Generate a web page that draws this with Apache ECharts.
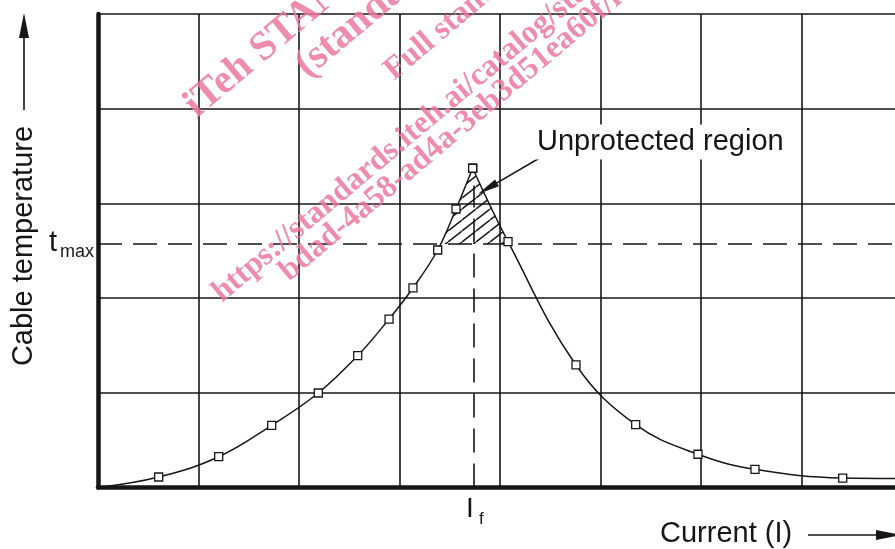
<!DOCTYPE html>
<html>
<head>
<meta charset="utf-8">
<title>Cable temperature vs current</title>
<script src="https://cdn.jsdelivr.net/npm/echarts@6/dist/echarts.min.js"></script>
<style>
  html, body { margin: 0; padding: 0; background: #fff; }
  #chart { width: 895px; height: 549px; }
</style>
</head>
<body>
<div id="chart"></div>
<script>
// rising branch of the curve (up to the peak)
const riseX = [0, 0.604, 1.201, 1.728, 2.192, 2.584, 2.896, 3.134, 3.380, 3.562, 3.728];
const riseY = [0, 0.111, 0.325, 0.657, 0.998, 1.392, 1.779, 2.107, 2.508, 2.941, 3.371];
// falling branch (from the peak on)
const fallX = [3.728, 4.080, 4.756, 5.350, 5.970, 6.537, 7.410, 8.0];
const fallY = [3.371, 2.596, 1.294, 0.663, 0.351, 0.192, 0.100, 0.095];

// reference levels
const tMax = 2.571;     // temperature limit
const iF = 3.741;       // fault current
const iFTop = 3.19;     // top of the I_f dashed line

// annotation anchor (start of the arrow, arrow tip)
const noteFrom = [4.428, 3.50];
const noteTip = [3.781, 3.10];

// axis ranges, one grid cell per unit
const xMax = 8;
const yMax = 5;

const watermark = [
  { text: 'iTeh STANDARD PREVIEW', x: 198, y: 120, size: 41 },
  { text: '(standards.iteh.ai)', x: 309, y: 80, size: 41 },
  { text: 'Full standard:', x: 395, y: 82, size: 32 },
  { text: 'https://standards.iteh.ai/catalog/standards/sist/', x: 223, y: 304, size: 32 },
  { text: 'bdad-4a58-ad4a-3eb3d51ea60f/iec', x: 290, y: 283, size: 32 }
];

const INK = '#161616';
const SANS = '"Liberation Sans", Arial, sans-serif';

function toPoints(xs, ys, skipFirst, skipLast) {
  return xs.map(function (x, i) {
    const p = { value: [x, ys[i]] };
    if ((skipFirst && i === 0) || (skipLast && i === xs.length - 1)) p.symbol = 'none';
    return p;
  });
}

// where the curve crosses tMax, linear between neighbouring points
function crossing(xs, ys, level) {
  for (let i = 0; i < xs.length - 1; i++) {
    const a = ys[i] - level, b = ys[i + 1] - level;
    if (a * b <= 0 && a !== b) {
      const t = a / (a - b);
      return [xs[i] + t * (xs[i + 1] - xs[i]), level];
    }
  }
  return null;
}

function hatchVerts() {
  const pts = [crossing(riseX, riseY, tMax)];
  riseX.forEach(function (x, i) { if (riseY[i] > tMax) pts.push([x, riseY[i]]); });
  fallX.forEach(function (x, i) { if (i > 0 && fallY[i] > tMax) pts.push([x, fallY[i]]); });
  pts.push(crossing(fallX.slice(1), fallY.slice(1), tMax));
  return pts;
}

function hatchPattern() {
  const w = 14, h = 11;
  const c = document.createElement('canvas');
  c.width = w; c.height = h;
  const g = c.getContext('2d');
  g.strokeStyle = INK;
  g.lineWidth = 1.5;
  [-w, 0, w].forEach(function (o) {
    g.beginPath();
    g.moveTo(o, h);
    g.lineTo(o + w, 0);
    g.stroke();
  });
  return { image: c, repeat: 'repeat' };
}

function arrow(from, tip, len, half) {
  const dx = tip[0] - from[0], dy = tip[1] - from[1];
  const d = Math.hypot(dx, dy);
  const ux = dx / d, uy = dy / d;
  const bx = tip[0] - ux * len, by = tip[1] - uy * len;
  return [
    { type: 'line', shape: { x1: from[0], y1: from[1], x2: bx + ux, y2: by + uy },
      style: { stroke: INK, lineWidth: 1.6 } },
    { type: 'polygon',
      shape: { points: [[tip[0], tip[1]], [bx - uy * half, by + ux * half], [bx + uy * half, by - ux * half]] },
      style: { fill: INK } }
  ];
}

function text(str, x, y, size, align, extra) {
  return {
    type: 'text', x: x, y: y, z: 50,
    style: Object.assign({
      text: str, fill: INK, font: size + 'px ' + SANS,
      align: align || 'left', verticalAlign: 'middle'
    }, extra || {})
  };
}

const chart = echarts.init(document.getElementById('chart'));

const lineStyle = { color: INK, width: 1.5 };
const markerStyle = { color: '#fff', borderColor: INK, borderWidth: 1.3 };

chart.setOption({
  animation: false,
  backgroundColor: '#fff',
  grid: { left: 98, top: 14, width: 804, height: 473.5, outerBoundsMode: 'none' },
  xAxis: {
    type: 'value', min: 0, max: xMax, interval: 1,
    axisLine: { onZero: false, lineStyle: { color: INK, width: 4.5 } },
    axisTick: { show: false },
    axisLabel: { show: false },
    splitLine: { show: true, lineStyle: { color: INK, width: 1.6 } }
  },
  yAxis: {
    type: 'value', min: 0, max: yMax, interval: 1,
    axisLine: { show: true, onZero: false, lineStyle: { color: INK, width: 4.5 } },
    axisTick: { show: false },
    axisLabel: { show: false },
    splitLine: { show: true, lineStyle: { color: INK, width: 1.6 } }
  },
  series: [
    {
      // hatched unprotected region above t max
      type: 'custom',
      coordinateSystem: 'cartesian2d',
      data: [[iF, tMax]],
      z: 1,
      silent: true,
      renderItem: function (params, api) {
        return {
          type: 'polygon',
          shape: { points: hatchVerts().map(function (p) { return api.coord(p); }) },
          style: { fill: hatchPattern(), stroke: null }
        };
      }
    },
    {
      type: 'line',
      data: toPoints(riseX, riseY, true, false),
      smooth: 0.4,
      symbol: 'rect',
      symbolSize: 8,
      lineStyle: lineStyle,
      itemStyle: markerStyle,
      z: 5,
      markLine: {
        silent: true,
        symbol: 'none',
        label: { show: false },
        lineStyle: { color: INK, width: 1.6, type: [24, 11] },
        data: [
          { yAxis: tMax },
          [{ coord: [iF, 0] }, { coord: [iF, iFTop] }]
        ]
      }
    },
    {
      type: 'line',
      data: toPoints(fallX, fallY, false, true),
      smooth: 0.4,
      symbol: 'rect',
      symbolSize: 8,
      lineStyle: lineStyle,
      itemStyle: markerStyle,
      z: 5
    }
  ]
});

// labels and arrows placed from data coordinates
const px = function (p) { return chart.convertToPixel({ gridIndex: 0 }, p); };
const pT = px([0, tMax]);
const pF = px([iF, 0]);
const pFrom = px(noteFrom);
const pTip = px(noteTip);

const rot = 40 * Math.PI / 180;
const wm = watermark.map(function (w) {
  const off = 0.31 * w.size;
  return {
    type: 'text',
    x: w.x - Math.sin(rot) * off,
    y: w.y - Math.cos(rot) * off,
    rotation: rot,
    z: 40,
    silent: true,
    style: {
      text: w.text, fill: 'rgba(236,120,160,0.85)',
      font: 'bold ' + w.size + 'px "Liberation Serif", "Times New Roman", serif',
      align: 'left', verticalAlign: 'middle'
    }
  };
});

const yTitle = text('Cable temperature', 24, 246, 29, 'center');
yTitle.rotation = Math.PI / 2;

const graphics = [].concat(
  [yTitle],
  arrow([24, 110], [24, 13], 25, 5),
  [text('Current (I)', 660, 534, 29, 'left')],
  arrow([808, 535], [901, 535], 25, 5),
  // t max
  [text('t', pT[0] - 41, pT[1] - 1, 29, 'right'), text('max', pT[0] - 38, pT[1] + 8, 18, 'left')],
  // I f
  [text('I', pF[0] - 4, pF[1] + 22, 28, 'center'), text('f', pF[0] + 5, pF[1] + 32, 17, 'left')],
  // annotation
  [text('Unprotected region', pFrom[0] - 10, pFrom[1] - 14, 29, 'left',
    { backgroundColor: '#fff', padding: [2, 4, 4, 4] })],
  arrow(pFrom, pTip, 22, 4),
  wm
);

chart.setOption({ graphic: graphics });

window.addEventListener('resize', function () {
  chart.resize();
});
</script>
</body>
</html>
